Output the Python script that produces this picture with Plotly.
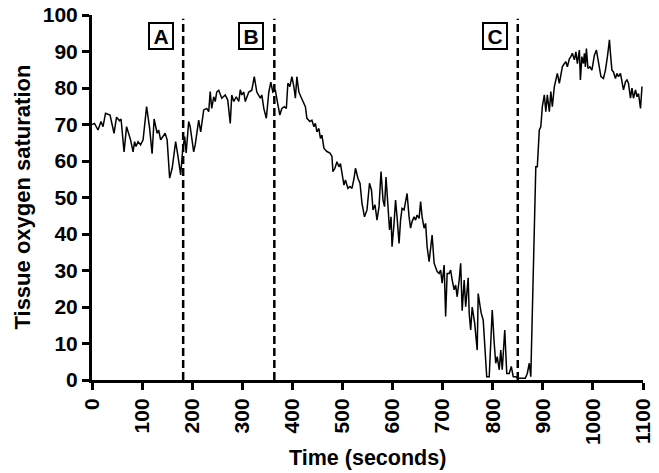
import plotly.graph_objects as go

time_s = [0,5,12,18,22,27,36,44,49,55,58,64,69,73,77,82,85,88,92,97,102,109,115,120,124,130,133,137,142,146,150,155,160,167,172,177,
          181,185,188,193,196,203,206,213,217,223,229,233,236,239,243,246,249,253,259,263,266,271,276,279,283,288,293,296,299,303,306,313,319,324,329,336,339,343,348,353,357,361,
          366,370,375,379,384,388,391,395,399,403,406,409,413,417,421,426,429,435,439,443,446,449,453,456,459,463,466,469,475,479,481,485,489,493,496,499,503,506,511,515,519,523,526,531,535,539,544,
          549,554,558,561,565,569,573,577,581,584,587,591,594,597,599,603,606,609,613,616,619,623,626,629,633,636,639,643,646,649,653,656,659,663,666,669,673,676,679,683,686,689,693,696,699,703,706,709,713,716,719,723,726,729,733,736,
          739,743,746,751,753,756,759,764,769,771,775,777,781,786,788,793,796,799,803,806,809,813,816,819,824,828,833,837,841,846,850,855,860,865,869,873,876,
          879,883,886,889,893,896,899,903,906,909,913,916,919,923,926,929,933,936,939,943,946,949,953,956,959,963,966,969,973,975,978,981,983,985,987,990,994,998,1003,1007,1011,1016,1021,1025,1029,1033,1035,1038,1041,1045,1048,1051,1055,1058,1061,1065,1068,1071,1075,1078,1081,1085,1088,1091,1095,1098]

saturation = [70,70.3,68.5,70.8,69.4,73.1,72.6,67.6,72,71,71.5,62.5,69.4,67.6,65.8,62.5,65.3,64,65.3,64.4,65.8,74.9,69,62,71.5,67.6,68.5,65.8,66.7,67.6,65.8,55.3,58,65.3,61,56.2,
              63,66.7,62.2,70.8,69.4,62.5,64.4,71.2,68,74,74.4,73.5,79,74.4,77.6,76.3,78.9,79.4,77.2,77.6,78.1,76.7,70.3,78.1,76.3,77.6,76.3,79.5,78.1,78.9,76.3,78.9,79.4,83.1,78.9,77.2,78.1,74.4,71.7,78.9,81.6,78.9,
              79.5,76.3,72.6,74.4,74.9,74.4,81.3,80.4,83.1,80.4,77.2,83.1,78.9,77.6,76.3,74.9,71.7,70.8,71.2,69.4,70.3,68,68.9,66.2,67.1,63.5,63,62.6,62.2,61.3,57.1,58,59.8,58.4,59.3,57.1,53.4,54.8,52.5,53,52.5,55.2,58,55.2,53.9,48.4,44.7,
              46.6,53.9,52,46.6,48,43.8,47.5,57.1,49.3,47.5,55.6,47.5,41.1,44.7,36.5,42.9,49.3,44.7,37.4,43.8,47,46.6,49.3,51.1,44.7,41.6,43.4,44.7,43.8,45.2,44.3,48.9,44.7,41.6,42.9,36.5,32.4,36.5,39.7,32,31,29.7,29.2,30.1,26.5,31.5,17.4,29.2,29.2,30.1,27.4,24.7,26,22.8,27.4,32,
              19,27.4,20.1,28,18.3,13.7,20,15.5,8.2,23.7,20,18.3,16.4,4.6,0.9,0.9,8.2,19.2,10,4.6,6.4,2.8,8.2,2.8,13.7,1.8,1.8,3.7,0.9,0.9,0.5,0.5,0.5,0.5,1.8,4.6,0.9,
              18.3,34.7,58.4,58.4,68.5,69.4,74.9,78.1,73.5,78.1,73.5,79,74.9,80.4,82.2,84,81.3,84,85.8,86.7,87.2,85.8,88,88.6,89.5,87.7,89.9,86.7,90.4,82.2,88.6,86.7,89.5,85.8,90.8,85.4,85.8,84.9,89,90.4,86.7,83.1,82.6,84.9,88.6,93.2,89.5,84.9,84.4,82.6,84,83.1,84,81.3,79.5,81.7,82.2,81.3,77.2,80,77.2,79.5,77.6,78.5,74.4,80.4]

event_labels = ["A", "B", "C"]
event_times = [182, 364, 850]
label_times = [138, 318, 804]

x_ticks = list(range(0, 1101, 100))
y_ticks = list(range(0, 101, 10))

FONT = "Liberation Sans, Arial, sans-serif"

fig = go.Figure()
fig.add_trace(go.Scatter(x=time_s, y=saturation, mode="lines",
                         line=dict(color="black", width=1.5), hoverinfo="skip"))

for t in event_times:
    fig.add_shape(type="line", x0=t, x1=t, y0=0, y1=99, xref="x", yref="y",
                  line=dict(color="black", width=2.5, dash="8px,4px"))

for lab, t in zip(event_labels, label_times):
    fig.add_annotation(x=t, y=94.3, xref="x", yref="y", text="<b>" + lab + "</b>",
                       showarrow=False, font=dict(family=FONT, size=21, color="black"),
                       bordercolor="black", borderwidth=2, borderpad=2, bgcolor="white",
                       width=18, height=20, yanchor="middle")

fig.add_annotation(x=0.5, y=-0.213, xref="paper", yref="paper", text="<b>Time (seconds)</b>",
                   showarrow=False, font=dict(family=FONT, size=21.5, color="black"),
                   xanchor="center", yanchor="middle")
fig.add_annotation(x=-0.127, y=0.5, xref="paper", yref="paper", text="<b>Tissue oxygen saturation</b>",
                   showarrow=False, font=dict(family=FONT, size=22, color="black"),
                   textangle=-90, xanchor="center", yanchor="middle")

fig.update_layout(
    width=659, height=473,
    margin=dict(l=92, r=16, t=15, b=93, autoexpand=False),
    plot_bgcolor="white", paper_bgcolor="white",
    showlegend=False,
    font=dict(family=FONT, color="black"),
)
fig.update_xaxes(range=[0, 1100], tickvals=x_ticks, ticktext=[str(v) for v in x_ticks],
                 tickangle=-90, showgrid=False, zeroline=False, automargin=False,
                 showline=True, linecolor="black", linewidth=3,
                 ticks="outside", ticklen=7, tickwidth=3, tickcolor="black",
                 tickfont=dict(family=FONT, size=21, color="black", weight="bold"))
fig.update_yaxes(range=[0, 100], tickvals=y_ticks, showgrid=False, zeroline=False, automargin=False,
                 showline=True, linecolor="black", linewidth=3,
                 ticks="outside", ticklen=7, tickwidth=3, tickcolor="black",
                 tickfont=dict(family=FONT, size=21, color="black", weight="bold"))

fig.write_html("out.html")
